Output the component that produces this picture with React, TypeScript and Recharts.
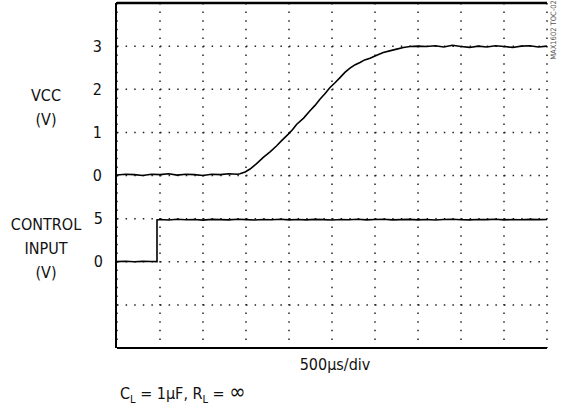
import React from 'react';
import { LineChart, Line, XAxis, YAxis, CartesianGrid, ReferenceLine } from 'recharts';

// time in µs, 500µs/div, 10 divisions
const timeTicks = [0, 500, 1000, 1500, 2000, 2500, 3000, 3500, 4000, 4500, 5000];

// VCC trace (V)
const vccTime = [
    0, 100, 200, 300, 400, 500, 600, 700, 800, 900, 1000, 1100, 1200, 1300, 1400,
    1430, 1490, 1547, 1620, 1701, 1780, 1857, 1920, 1992, 2040, 2090, 2170, 2244, 2300,
    2360, 2420, 2477, 2535, 2593, 2650, 2709, 2770, 2826, 2880, 2942, 3020, 3097, 3170,
    3252, 3330, 3407, 3500, 3601, 3700, 3800, 3900, 4000, 4100, 4200, 4300, 4400,
    4500, 4600, 4700, 4800, 4900, 5000,
];
const vccVolts = [
    0.01, 0.03, 0.02, 0.0, 0.03, 0.02, 0.04, 0.01, 0.03, 0.02, 0.0, 0.03, 0.02, 0.04, 0.03,
    0.04, 0.08, 0.15, 0.27, 0.42, 0.55, 0.69, 0.82, 0.96, 1.06, 1.19, 1.33, 1.5, 1.62,
    1.77, 1.9, 2.04, 2.15, 2.27, 2.39, 2.49, 2.57, 2.62, 2.68, 2.72, 2.79, 2.85, 2.89,
    2.93, 2.97, 2.99, 3.0, 2.99, 3.01, 2.98, 3.02, 2.99, 2.97, 3.0, 2.98, 3.01,
    2.99, 2.97, 3.0, 3.01, 2.98, 3.0,
];

// CONTROL INPUT trace (V)
const ctrlTime = [
    0, 100, 200, 300, 400, 465, 465, 500, 600, 700, 800, 900, 1000, 1100, 1200, 1300, 1400,
    1500, 1600, 1700, 1800, 1900, 2000, 2100, 2200, 2300, 2400, 2500, 2600, 2700, 2800,
    2900, 3000, 3100, 3200, 3300, 3400, 3500, 3600, 3700, 3800, 3900, 4000, 4100, 4200,
    4300, 4400, 4500, 4600, 4700, 4800, 4900, 5000,
];
const ctrlVolts = [
    0.02, 0.05, 0.0, 0.04, 0.03, 0.02, 4.85, 4.9, 4.84, 4.92, 4.87, 4.9, 4.83, 4.91, 4.88,
    4.86, 4.93, 4.88, 4.84, 4.9, 4.87, 4.92, 4.86, 4.89, 4.85, 4.91, 4.88, 4.84, 4.9,
    4.87, 4.93, 4.86, 4.89, 4.92, 4.85, 4.88, 4.91, 4.86, 4.9, 4.84, 4.89, 4.92, 4.87,
    4.85, 4.9, 4.88, 4.93, 4.86, 4.89, 4.87, 4.91, 4.88, 4.9,
];

const vccGridTicks = [-4, -3, -2, -1, 0, 1, 2, 3, 4];
const vccLabels = [0, 1, 2, 3];
const ctrlTicks = [0, 5];

const vccData = vccTime.map((t, i) => ({ t, v: vccVolts[i] }));
const ctrlData = ctrlTime.map((t, i) => ({ t, v: ctrlVolts[i] }));

const FONT = '"Liberation Sans Narrow", "Arial Narrow", "DejaVu Sans Condensed", sans-serif';

const VccTick = (props: any) => {
    const { x, y, payload } = props;
    if (!vccLabels.includes(payload.value)) return <g />;
    return (
        <text x={x} y={y} textAnchor="end" dominantBaseline="central" fontSize={16} fontFamily={FONT} fill="#111">
            {payload.value}
        </text>
    );
};

const CtrlTick = (props: any) => {
    const { x, y, payload } = props;
    return (
        <text x={x} y={y} textAnchor="end" dominantBaseline="central" fontSize={16} fontFamily={FONT} fill="#111">
            {payload.value}
        </text>
    );
};

const label: React.CSSProperties = {
    position: 'absolute',
    fontFamily: FONT,
    fontSize: 16,
    color: '#111',
    textAlign: 'center',
    lineHeight: '24px',
    whiteSpace: 'nowrap',
};

export default function App() {
    return (
        <div style={{ position: 'absolute', left: 0, top: 0, width: 563, height: 407, background: '#fff' }}>
            <LineChart width={563} height={407} data={vccData} margin={{ top: 0, right: 16, left: 0, bottom: 0 }}>
                <CartesianGrid
                    xAxisId="t"
                    yAxisId="vcc"
                    stroke="#222"
                    strokeWidth={1.5}
                    strokeDasharray="1.5 7.1"
                />
                <XAxis
                    xAxisId="t"
                    dataKey="t"
                    type="number"
                    domain={[0, 5000]}
                    ticks={timeTicks}
                    tickFormatter={() => ''}
                    tickLine={false}
                    height={59}
                    axisLine={{ stroke: '#000', strokeWidth: 2 }}
                />
                <XAxis
                    xAxisId="top"
                    orientation="top"
                    dataKey="t"
                    type="number"
                    domain={[0, 5000]}
                    ticks={timeTicks}
                    tickFormatter={() => ''}
                    tickLine={false}
                    height={3}
                    axisLine={{ stroke: '#000', strokeWidth: 2 }}
                />
                <YAxis
                    yAxisId="vcc"
                    type="number"
                    domain={[-4, 4]}
                    ticks={vccGridTicks}
                    tick={<VccTick />}
                    tickLine={false}
                    tickSize={0}
                    tickMargin={14}
                    width={116}
                    axisLine={{ stroke: '#000', strokeWidth: 2 }}
                />
                <YAxis
                    yAxisId="ctrl"
                    type="number"
                    domain={[-10, 30]}
                    ticks={ctrlTicks}
                    tick={<CtrlTick />}
                    tickLine={false}
                    tickSize={0}
                    tickMargin={14}
                    axisLine={false}
                    width={1}
                />
                <ReferenceLine xAxisId="t" yAxisId="vcc" y={4} stroke="#000" strokeWidth={2.5} ifOverflow="visible" />
                <Line
                    xAxisId="t"
                    yAxisId="vcc"
                    data={vccData}
                    dataKey="v"
                    type="linear"
                    stroke="#000"
                    strokeWidth={1.6}
                    dot={false}
                    isAnimationActive={false}
                />
                <Line
                    xAxisId="t"
                    yAxisId="ctrl"
                    data={ctrlData}
                    dataKey="v"
                    type="linear"
                    stroke="#000"
                    strokeWidth={1.6}
                    dot={false}
                    isAnimationActive={false}
                />
            </LineChart>

            {/* top frame edge */}
            <div style={{ position: 'absolute', left: 116, top: 2, width: 431, height: 2, background: '#000' }} />

            <div style={{ ...label, left: 16, top: 84, width: 60 }}>VCC<br />(V)</div>
            <div style={{ ...label, left: 6, top: 213, width: 80 }}>CONTROL<br />INPUT<br />(V)</div>
            <div style={{ ...label, left: 282, top: 353, width: 106 }}>500µs/div</div>
            <div style={{ ...label, left: 120, top: 380, textAlign: 'left' }}>
                C<sub style={{ fontSize: 11 }}>L</sub> = 1µF, R<sub style={{ fontSize: 11 }}>L</sub> ={' '}
                <span style={{ fontSize: 22 }}>∞</span>
            </div>
            <div
                style={{
                    position: 'absolute',
                    left: 553,
                    top: 30,
                    fontFamily: FONT,
                    fontSize: 7.5,
                    color: '#555',
                    whiteSpace: 'nowrap',
                    transform: 'translate(-50%, -50%) rotate(-90deg)',
                }}
            >
                MAX1602 TOC-02
            </div>
        </div>
    );
}
